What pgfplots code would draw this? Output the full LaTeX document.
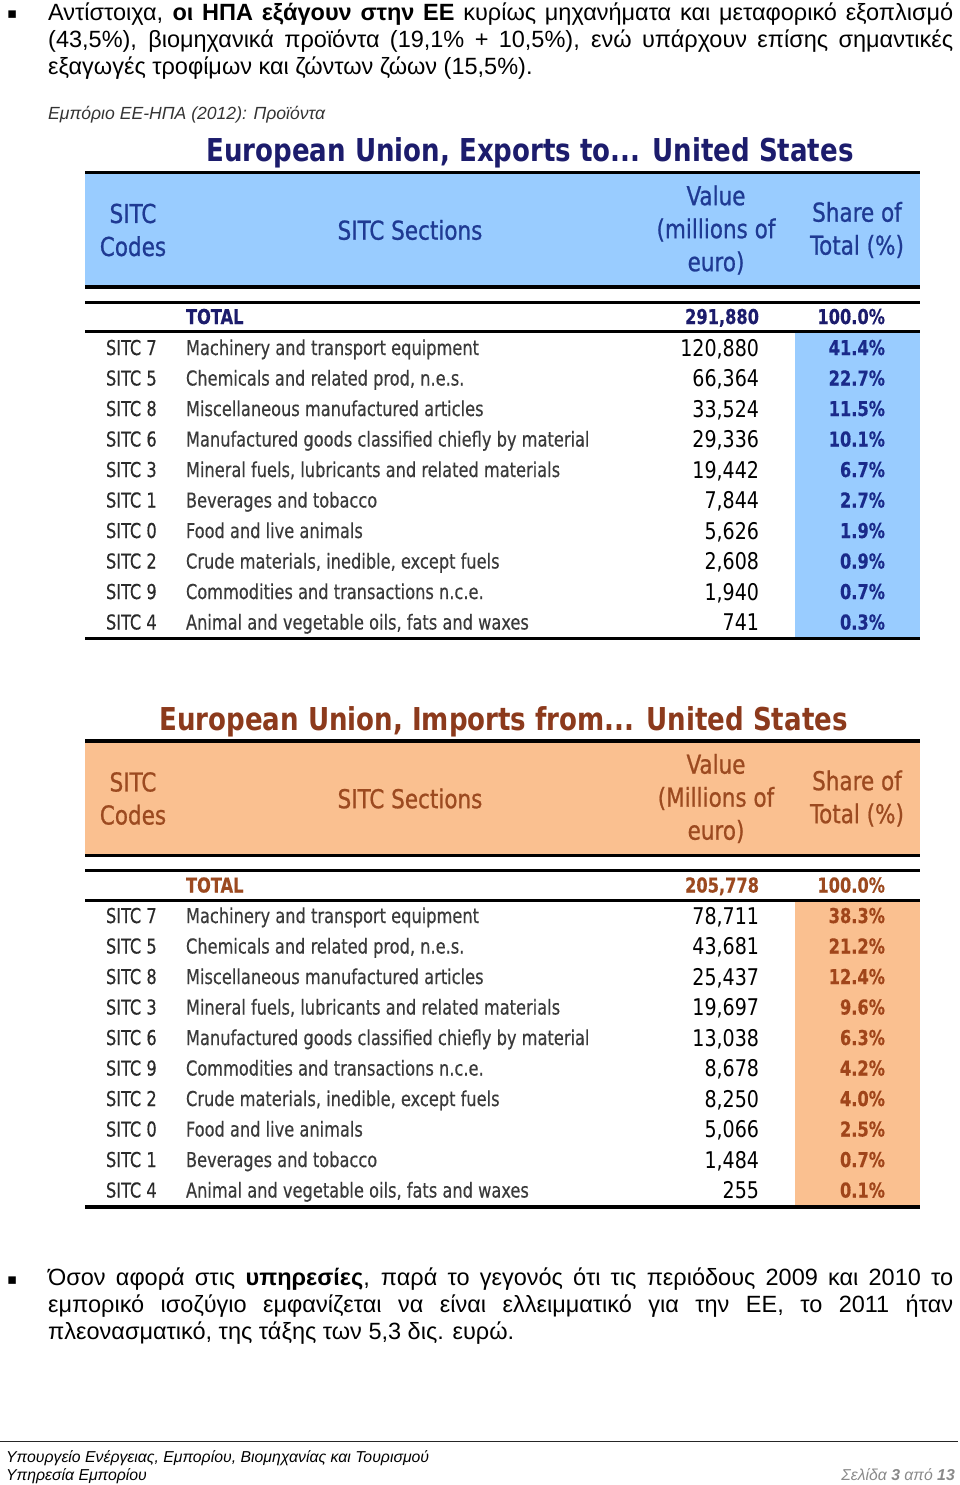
\documentclass[border=0pt]{standalone}
\usepackage{fontspec}
\setmainfont{Liberation Sans}
\newfontfamily\tabfont[FakeStretch=0.88, FakeBold=0.4]{DejaVu Sans Condensed}
\newfontfamily\tabwfont[FakeStretch=0.92]{DejaVu Sans Condensed}
\newfontfamily\headfam[FakeStretch=0.92, FakeBold=0.8]{DejaVu Sans Condensed}
\newfontfamily\symfont{DejaVu Sans}
\usepackage{pgfplots}
\usepackage{pgfplotstable}
\pgfplotsset{compat=1.18}

\definecolor{bluefill}{HTML}{99CCFF}
\definecolor{orangefill}{HTML}{FAC090}
\definecolor{navytitle}{HTML}{1C1C6C}
\definecolor{navyhead}{HTML}{1F3A93}
\definecolor{navyval}{HTML}{1A2A8A}
\definecolor{browntitle}{HTML}{8C3A1C}
\definecolor{brownhead}{HTML}{9C4A20}
\definecolor{brownval}{HTML}{A0451A}
\definecolor{codegrey}{HTML}{2A2A2A}
\definecolor{secgrey}{HTML}{3A3A3A}
\definecolor{capgrey}{HTML}{333333}
\definecolor{pagegrey}{HTML}{8A8A8A}

% Exports of the EU to the United States (2012), millions of euro and share of total
\pgfplotstableread[col sep=semicolon]{
code;section;value;share;y
7;Machinery and transport equipment;120880;41.4;348
5;Chemicals and related prod, n.e.s.;66364;22.7;378.5
8;Miscellaneous manufactured articles;33524;11.5;409
6;Manufactured goods classified chiefly by material;29336;10.1;439.5
3;Mineral fuels, lubricants and related materials;19442;6.7;470
1;Beverages and tobacco;7844;2.7;500.5
0;Food and live animals;5626;1.9;531
2;Crude materials, inedible, except fuels;2608;0.9;561.5
9;Commodities and transactions n.c.e.;1940;0.7;592
4;Animal and vegetable oils, fats and waxes;741;0.3;622.5
}\exprows
\pgfplotstableread[col sep=semicolon]{
label;value;share;y
TOTAL;291880;100.0;317
}\exptotal

% Imports of the EU from the United States (2012)
\pgfplotstableread[col sep=semicolon]{
code;section;value;share;y
7;Machinery and transport equipment;78711;38.3;916
5;Chemicals and related prod, n.e.s.;43681;21.2;946.5
8;Miscellaneous manufactured articles;25437;12.4;977
3;Mineral fuels, lubricants and related materials;19697;9.6;1007.5
6;Manufactured goods classified chiefly by material;13038;6.3;1038
9;Commodities and transactions n.c.e.;8678;4.2;1068.5
2;Crude materials, inedible, except fuels;8250;4.0;1099
0;Food and live animals;5066;2.5;1129.5
1;Beverages and tobacco;1484;0.7;1160
4;Animal and vegetable oils, fats and waxes;255;0.1;1190.5
}\improws
\pgfplotstableread[col sep=semicolon]{
label;value;share;y
TOTAL;205778;100.0;885.5
}\imptotal

\newcommand\bodyfont{\fontsize{23.5}{27}\selectfont}
\newcommand\rowfont{\tabfont\fontsize{20.5}{20.5}\selectfont}
\newcommand\valfont{\tabwfont\fontsize{23}{23}\selectfont}
\newcommand\headfont{\headfam\fontsize{26}{33}\selectfont}
\newcommand\titlefont{\tabwfont\bfseries\fontsize{31.5}{31.5}\selectfont}

\pgfplotsset{
  txt/.style={only marks, mark=none, nodes near coords,
    every node near coord/.append style={inner sep=0pt, outer sep=0pt}},
}

\begin{document}
\begin{tikzpicture}
\useasboundingbox (0,0) rectangle (960pt,1485pt);
\begin{axis}[
  at={(0,0)}, anchor=south west,
  width=960pt, height=1485pt, scale only axis,
  xmin=0, xmax=960, ymin=0, ymax=1485, y dir=reverse,
  enlargelimits=false, hide axis, clip=false,
]
% ---------- paragraph 1 ----------
\node[anchor=base west, inner sep=0pt] at (axis cs:7,19) {\symfont\fontsize{15}{15}\selectfont ▪};
\node[anchor=base west, inner sep=0pt, text width=905pt, align=justify, font=\bodyfont] at (axis cs:48,20.5)
 {\hyphenpenalty=10000 Αντίστοιχα, \textbf{οι ΗΠΑ εξάγουν στην ΕΕ} κυρίως μηχανήματα και μεταφορικό εξοπλισμό\linebreak (43,5\%), βιομηχανικά προϊόντα (19,1\% + 10,5\%), ενώ υπάρχουν επίσης σημαντικές\linebreak εξαγωγές τροφίμων και ζώντων ζώων (15,5\%).};
\node[anchor=base west, inner sep=0pt, text=capgrey] at (axis cs:48,119.5)
 {\fontsize{17.6}{17.6}\selectfont\itshape Εμπόριο ΕΕ-ΗΠΑ (2012): Προϊόντα};

% ---------- exports table decoration ----------
\node[anchor=base, inner sep=0pt, text=navytitle] at (axis cs:530,161) {\titlefont European Union, Exports to... United States};
\fill[bluefill] (axis cs:85,174) rectangle (axis cs:920,286);
\draw[line width=3.5pt] (axis cs:85,172.5) -- (axis cs:920,172.5);
\draw[line width=3.5pt] (axis cs:85,287) -- (axis cs:920,287);
\draw[line width=3pt] (axis cs:85,302) -- (axis cs:920,302);
\node[align=center, text=navyhead, inner sep=0pt, font=\headfont] at (axis cs:133,230) {SITC\\Codes};
\node[align=center, text=navyhead, inner sep=0pt, font=\headfont] at (axis cs:410,230) {SITC Sections};
\node[align=center, text=navyhead, inner sep=0pt, font=\headfont] at (axis cs:716,230) {Value\\(millions of\\euro)};
\node[align=center, text=navyhead, inner sep=0pt, font=\headfont] at (axis cs:857,230) {Share of\\Total (\%)};
\draw[line width=3pt] (axis cs:85,331.5) -- (axis cs:920,331.5);
\fill[bluefill] (axis cs:795,333) rectangle (axis cs:920,637);
\draw[line width=3.5pt] (axis cs:85,638.5) -- (axis cs:920,638.5);

% ---------- exports data ----------
\addplot[txt, point meta=explicit symbolic,
  every node near coord/.append style={anchor=base west, yshift=-7pt, text=navytitle, font=\rowfont\bfseries}]
  table[x expr=186, y=y, meta=label] {\exptotal};
\addplot[txt, point meta=explicit,
  nodes near coords={\pgfmathprintnumber[fixed, precision=0, 1000 sep={,}, assume math mode=true]{\pgfplotspointmeta}},
  every node near coord/.append style={anchor=base east, yshift=-7pt, text=navytitle, font=\rowfont\bfseries}]
  table[x expr=759, y=y, meta=value] {\exptotal};
\addplot[txt, point meta=explicit,
  nodes near coords={\pgfmathprintnumber[fixed, fixed zerofill, precision=1, assume math mode=true]{\pgfplotspointmeta}\%},
  every node near coord/.append style={anchor=base east, yshift=-7pt, text=navytitle, font=\rowfont\bfseries}]
  table[x expr=885, y=y, meta=share] {\exptotal};
\addplot[txt, point meta=explicit symbolic, nodes near coords={SITC \pgfplotspointmeta},
  every node near coord/.append style={anchor=base west, yshift=-7pt, text=codegrey, font=\rowfont}]
  table[x expr=106, y=y, meta=code] {\exprows};
\addplot[txt, point meta=explicit symbolic,
  every node near coord/.append style={anchor=base west, yshift=-7pt, text=secgrey, font=\rowfont}]
  table[x expr=186, y=y, meta=section] {\exprows};
\addplot[txt, point meta=explicit,
  nodes near coords={\pgfmathprintnumber[fixed, precision=0, 1000 sep={,}, assume math mode=true]{\pgfplotspointmeta}},
  every node near coord/.append style={anchor=base east, yshift=-8.3pt, text=black, font=\valfont}]
  table[x expr=759, y=y, meta=value] {\exprows};
\addplot[txt, point meta=explicit,
  nodes near coords={\pgfmathprintnumber[fixed, fixed zerofill, precision=1, assume math mode=true]{\pgfplotspointmeta}\%},
  every node near coord/.append style={anchor=base east, yshift=-7pt, text=navyval, font=\rowfont\bfseries}]
  table[x expr=885, y=y, meta=share] {\exprows};

% ---------- imports table decoration ----------
\node[anchor=base, inner sep=0pt, text=browntitle] at (axis cs:503.5,730) {\titlefont European Union, Imports from... United States};
\fill[orangefill] (axis cs:85,742.5) rectangle (axis cs:920,854.5);
\draw[line width=3.5pt] (axis cs:85,741) -- (axis cs:920,741);
\draw[line width=3.5pt] (axis cs:85,855.5) -- (axis cs:920,855.5);
\draw[line width=3pt] (axis cs:85,870.5) -- (axis cs:920,870.5);
\node[align=center, text=brownhead, inner sep=0pt, font=\headfont] at (axis cs:133,798.5) {SITC\\Codes};
\node[align=center, text=brownhead, inner sep=0pt, font=\headfont] at (axis cs:410,798.5) {SITC Sections};
\node[align=center, text=brownhead, inner sep=0pt, font=\headfont] at (axis cs:716,798.5) {Value\\(Millions of\\euro)};
\node[align=center, text=brownhead, inner sep=0pt, font=\headfont] at (axis cs:857,798.5) {Share of\\Total (\%)};
\draw[line width=3pt] (axis cs:85,900) -- (axis cs:920,900);
\fill[orangefill] (axis cs:795,901.5) rectangle (axis cs:920,1205.5);
\draw[line width=3.5pt] (axis cs:85,1207) -- (axis cs:920,1207);

% ---------- imports data ----------
\addplot[txt, point meta=explicit symbolic,
  every node near coord/.append style={anchor=base west, yshift=-7pt, text=brownhead, font=\rowfont\bfseries}]
  table[x expr=186, y=y, meta=label] {\imptotal};
\addplot[txt, point meta=explicit,
  nodes near coords={\pgfmathprintnumber[fixed, precision=0, 1000 sep={,}, assume math mode=true]{\pgfplotspointmeta}},
  every node near coord/.append style={anchor=base east, yshift=-7pt, text=brownhead, font=\rowfont\bfseries}]
  table[x expr=759, y=y, meta=value] {\imptotal};
\addplot[txt, point meta=explicit,
  nodes near coords={\pgfmathprintnumber[fixed, fixed zerofill, precision=1, assume math mode=true]{\pgfplotspointmeta}\%},
  every node near coord/.append style={anchor=base east, yshift=-7pt, text=brownhead, font=\rowfont\bfseries}]
  table[x expr=885, y=y, meta=share] {\imptotal};
\addplot[txt, point meta=explicit symbolic, nodes near coords={SITC \pgfplotspointmeta},
  every node near coord/.append style={anchor=base west, yshift=-7pt, text=codegrey, font=\rowfont}]
  table[x expr=106, y=y, meta=code] {\improws};
\addplot[txt, point meta=explicit symbolic,
  every node near coord/.append style={anchor=base west, yshift=-7pt, text=secgrey, font=\rowfont}]
  table[x expr=186, y=y, meta=section] {\improws};
\addplot[txt, point meta=explicit,
  nodes near coords={\pgfmathprintnumber[fixed, precision=0, 1000 sep={,}, assume math mode=true]{\pgfplotspointmeta}},
  every node near coord/.append style={anchor=base east, yshift=-8.3pt, text=black, font=\valfont}]
  table[x expr=759, y=y, meta=value] {\improws};
\addplot[txt, point meta=explicit,
  nodes near coords={\pgfmathprintnumber[fixed, fixed zerofill, precision=1, assume math mode=true]{\pgfplotspointmeta}\%},
  every node near coord/.append style={anchor=base east, yshift=-7pt, text=brownval, font=\rowfont\bfseries}]
  table[x expr=885, y=y, meta=share] {\improws};

% ---------- paragraph 2 ----------
\node[anchor=base west, inner sep=0pt] at (axis cs:7,1284) {\symfont\fontsize{15}{15}\selectfont ▪};
\node[anchor=base west, inner sep=0pt, text width=905pt, align=justify, font=\bodyfont] at (axis cs:48,1285.5)
 {\hyphenpenalty=10000 Όσον αφορά στις \textbf{υπηρεσίες}, παρά το γεγονός ότι τις περιόδους 2009 και 2010 το\linebreak εμπορικό ισοζύγιο εμφανίζεται να είναι ελλειμματικό για την ΕΕ, το 2011 ήταν\linebreak πλεονασματικό, της τάξης των 5,3 δις. ευρώ.};

% ---------- footer ----------
\draw[line width=1pt, black!85] (axis cs:0,1441) -- (axis cs:958,1441);
\node[anchor=base west, inner sep=0pt] at (axis cs:6,1462.5)
 {\fontsize{15.8}{15.8}\selectfont\itshape Υπουργείο Ενέργειας, Εμπορίου, Βιομηχανίας και Τουρισμού};
\node[anchor=base west, inner sep=0pt] at (axis cs:6,1480.5)
 {\fontsize{15.8}{15.8}\selectfont\itshape Υπηρεσία Εμπορίου};
\node[anchor=base east, inner sep=0pt, text=pagegrey] at (axis cs:955,1480.5)
 {\fontsize{15.8}{15.8}\selectfont\itshape Σελίδα \textbf{3} από \textbf{13}};
\end{axis}
\end{tikzpicture}
\end{document}
